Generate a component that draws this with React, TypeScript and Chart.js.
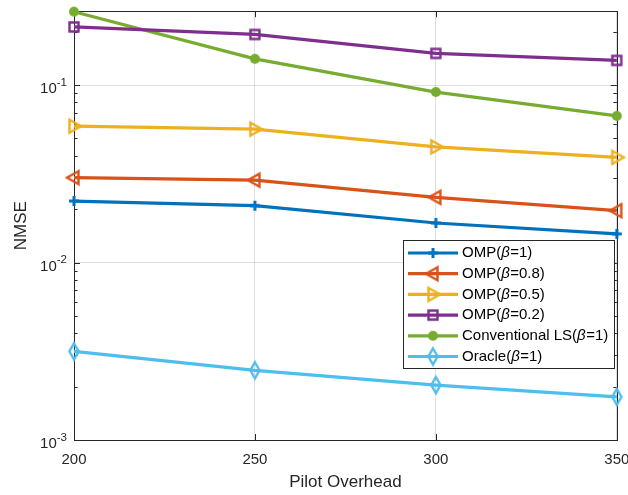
import { useEffect, useRef } from 'react';
import { Chart, registerables } from 'chart.js';

Chart.register(...registerables);

// ---- data ----
const pilotOverhead = [200, 250, 300, 350];
const ompBeta1 = [0.0222, 0.0209, 0.0167, 0.0145];
const ompBeta08 = [0.0301, 0.0291, 0.0233, 0.0196];
const ompBeta05 = [0.0586, 0.0564, 0.0448, 0.0391];
const ompBeta02 = [0.2126, 0.1927, 0.1507, 0.1376];
const conventionalLS = [0.259, 0.1405, 0.0913, 0.067];
const oracleBeta1 = [0.00316, 0.00247, 0.00204, 0.00175];

const xTickValues = [200, 250, 300, 350];
const yDecadeValues = [0.001, 0.01, 0.1];
const yDecadeExponents = ['-3', '-2', '-1'];
const yMin = 0.001;
const yMax = 0.2606;

const seriesNames = ['OMP(', 'OMP(', 'OMP(', 'OMP(', 'Conventional LS(', 'Oracle('];
const seriesBetas = ['=1)', '=0.8)', '=0.5)', '=0.2)', '=1)', '=1)'];

const FONT = '"Liberation Sans", Arial, Helvetica, sans-serif';
const AXIS_COLOR = '#262626';
const GRID_COLOR = 'rgba(0,0,0,0.12)';
const LINE_W = 3.2;

type Kind = 'plus' | 'triLeft' | 'triRight' | 'square' | 'circle' | 'diamond';

function makeMarker(kind: Kind, color: string): HTMLCanvasElement {
  const c = document.createElement('canvas');
  c.width = 24;
  c.height = 24;
  const g = c.getContext('2d')!;
  const x = 12;
  const y = 12;
  g.strokeStyle = color;
  g.fillStyle = color;
  g.lineWidth = 2.4;
  g.lineJoin = 'miter';
  g.beginPath();
  switch (kind) {
    case 'plus':
      g.lineWidth = 3;
      g.moveTo(x - 5, y);
      g.lineTo(x + 5, y);
      g.moveTo(x, y - 5);
      g.lineTo(x, y + 5);
      g.stroke();
      break;
    case 'triLeft':
      g.moveTo(x - 7, y);
      g.lineTo(x + 4.5, y - 6.5);
      g.lineTo(x + 4.5, y + 6.5);
      g.closePath();
      g.stroke();
      break;
    case 'triRight':
      g.moveTo(x + 7, y);
      g.lineTo(x - 4.5, y - 6.5);
      g.lineTo(x - 4.5, y + 6.5);
      g.closePath();
      g.stroke();
      break;
    case 'square':
      g.rect(x - 4.5, y - 4.5, 9, 9);
      g.stroke();
      break;
    case 'circle':
      g.arc(x, y, 5, 0, Math.PI * 2);
      g.fill();
      break;
    case 'diamond':
      g.moveTo(x, y - 8);
      g.lineTo(x + 4.6, y);
      g.lineTo(x, y + 8);
      g.lineTo(x - 4.6, y);
      g.closePath();
      g.stroke();
      break;
  }
  return c;
}

export default function App() {
  const canvasRef = useRef<HTMLCanvasElement | null>(null);

  useEffect(() => {
    document.body.style.margin = '0';
    const canvas = canvasRef.current;
    if (!canvas) return;

    const specs: { data: number[]; color: string; kind: Kind }[] = [
      { data: ompBeta1, color: '#0072BD', kind: 'plus' },
      { data: ompBeta08, color: '#D95319', kind: 'triLeft' },
      { data: ompBeta05, color: '#EDB120', kind: 'triRight' },
      { data: ompBeta02, color: '#7E2F8E', kind: 'square' },
      { data: conventionalLS, color: '#77AC30', kind: 'circle' },
      { data: oracleBeta1, color: '#4DBEEE', kind: 'diamond' },
    ];
    const markers = specs.map((s) => makeMarker(s.kind, s.color));

    const isDecade = (v: number) => yDecadeValues.some((d) => Math.abs(v - d) / d < 1e-6);

    const decorPlugin = {
      id: 'matlabDecor',
      beforeDatasetsDraw(chart: any) {
        const { ctx, chartArea: a, scales } = chart;
        const xs = scales.x;
        const ys = scales.y;
        ctx.save();
        ctx.strokeStyle = AXIS_COLOR;
        ctx.lineWidth = 1;
        ctx.beginPath();
        xTickValues.forEach((v) => {
          const px = Math.round(xs.getPixelForValue(v)) + 0.5;
          ctx.moveTo(px, a.bottom);
          ctx.lineTo(px, a.bottom - 6);
          ctx.moveTo(px, a.top);
          ctx.lineTo(px, a.top + 6);
        });
        ys.ticks.forEach((t: any) => {
          const py = Math.round(ys.getPixelForValue(t.value)) + 0.5;
          const len = isDecade(t.value) ? 6 : 3.5;
          ctx.moveTo(a.left, py);
          ctx.lineTo(a.left + len, py);
          ctx.moveTo(a.right, py);
          ctx.lineTo(a.right - len, py);
        });
        ctx.stroke();
        ctx.strokeRect(Math.round(a.left) + 0.5, Math.round(a.top) + 0.5, Math.round(a.right - a.left), Math.round(a.bottom - a.top));
        ctx.restore();
      },
      afterDraw(chart: any) {
        const { ctx, scales } = chart;
        const ys = scales.y;
        ctx.save();
        ctx.fillStyle = AXIS_COLOR;
        ctx.textAlign = 'left';
        ctx.textBaseline = 'alphabetic';
        const rightEdge = 67;
        yDecadeValues.forEach((v, i) => {
          const py = ys.getPixelForValue(v);
          const exp = yDecadeExponents[i];
          ctx.font = `11.5px ${FONT}`;
          const ew = ctx.measureText(exp).width;
          ctx.font = `15px ${FONT}`;
          const bw = ctx.measureText('10').width;
          ctx.fillText('10', rightEdge - ew - bw, py + 8);
          ctx.font = `11.5px ${FONT}`;
          ctx.fillText(exp, rightEdge - ew, py + 0.5);
        });

        // legend
        const L = 403.5, T = 240.5, R = 614.5, B = 368.5;
        ctx.fillStyle = '#ffffff';
        ctx.fillRect(L, T, R - L, B - T);
        ctx.strokeStyle = AXIS_COLOR;
        ctx.lineWidth = 1;
        ctx.strokeRect(L, T, R - L, B - T);
        specs.forEach((s, i) => {
          const y = 253 + i * 20.7;
          ctx.strokeStyle = s.color;
          ctx.lineWidth = LINE_W;
          ctx.beginPath();
          ctx.moveTo(408, y);
          ctx.lineTo(458, y);
          ctx.stroke();
          ctx.drawImage(markers[i], 433 - 12, y - 12);
          ctx.fillStyle = '#000000';
          ctx.textBaseline = 'middle';
          let tx = 462;
          ctx.font = `15px ${FONT}`;
          ctx.fillText(seriesNames[i], tx, y);
          tx += ctx.measureText(seriesNames[i]).width;
          ctx.font = `italic 15px ${FONT}`;
          ctx.fillText('β', tx, y);
          tx += ctx.measureText('β').width + 0.5;
          ctx.font = `15px ${FONT}`;
          ctx.fillText(seriesBetas[i], tx, y);
        });
        ctx.restore();
      },
    };

    const chart = new Chart(canvas, {
      type: 'line',
      data: {
        datasets: specs.map((s, i) => ({
          label: seriesNames[i] + 'β' + seriesBetas[i],
          data: pilotOverhead.map((x, j) => ({ x, y: s.data[j] })),
          borderColor: s.color,
          backgroundColor: s.color,
          borderWidth: LINE_W,
          pointStyle: markers[i] as any,
          pointRadius: 8,
          clip: false as any,
          tension: 0,
        })),
      },
      options: {
        animation: false,
        responsive: false,
        devicePixelRatio: 1,
        layout: { padding: { top: 10, right: 10, left: 0, bottom: 0 } },
        plugins: {
          legend: { display: false },
          tooltip: { enabled: false },
        },
        scales: {
          x: {
            type: 'linear',
            min: 200,
            max: 350,
            afterBuildTicks: (s: any) => {
              s.ticks = xTickValues.map((v) => ({ value: v }));
            },
            afterFit: (s: any) => {
              s.height = 55;
              s.paddingLeft = 0;
              s.paddingRight = 0;
            },
            grid: { color: GRID_COLOR, drawTicks: false, lineWidth: 1 },
            border: { display: false },
            ticks: {
              color: AXIS_COLOR,
              font: { family: FONT, size: 15 },
              padding: 11,
              maxRotation: 0,
              callback: (v: any) => String(v),
            },
            title: {
              display: true,
              text: 'Pilot Overhead',
              color: AXIS_COLOR,
              font: { family: FONT, size: 17 },
              padding: { top: 0, bottom: 2 },
            },
          },
          y: {
            type: 'logarithmic',
            min: yMin,
            max: yMax,
            afterBuildTicks: (s: any) => {
              const ticks: { value: number }[] = [];
              for (let e = -3; e <= -1; e++) {
                for (let m = 1; m <= 9; m++) {
                  const v = m * Math.pow(10, e);
                  if (v >= yMin * 0.999 && v <= yMax) ticks.push({ value: v });
                }
              }
              s.ticks = ticks;
            },
            afterFit: (s: any) => {
              s.width = 74;
              s.paddingTop = 0;
              s.paddingBottom = 0;
            },
            grid: {
              color: (c: any) => (c.tick && isDecade(c.tick.value) ? GRID_COLOR : 'rgba(0,0,0,0)'),
              drawTicks: false,
              lineWidth: 1,
            },
            border: { display: false },
            ticks: { display: false },
            title: {
              display: true,
              text: 'NMSE',
              color: AXIS_COLOR,
              font: { family: FONT, size: 17 },
              padding: { top: 11, bottom: 0 },
            },
          },
        },
      },
      plugins: [decorPlugin],
    } as any);

    return () => chart.destroy();
  }, []);

  return (
    <div style={{ width: 628, height: 495 }}>
      <canvas ref={canvasRef} width={628} height={495} style={{ width: 628, height: 495, display: 'block' }} />
    </div>
  );
}
